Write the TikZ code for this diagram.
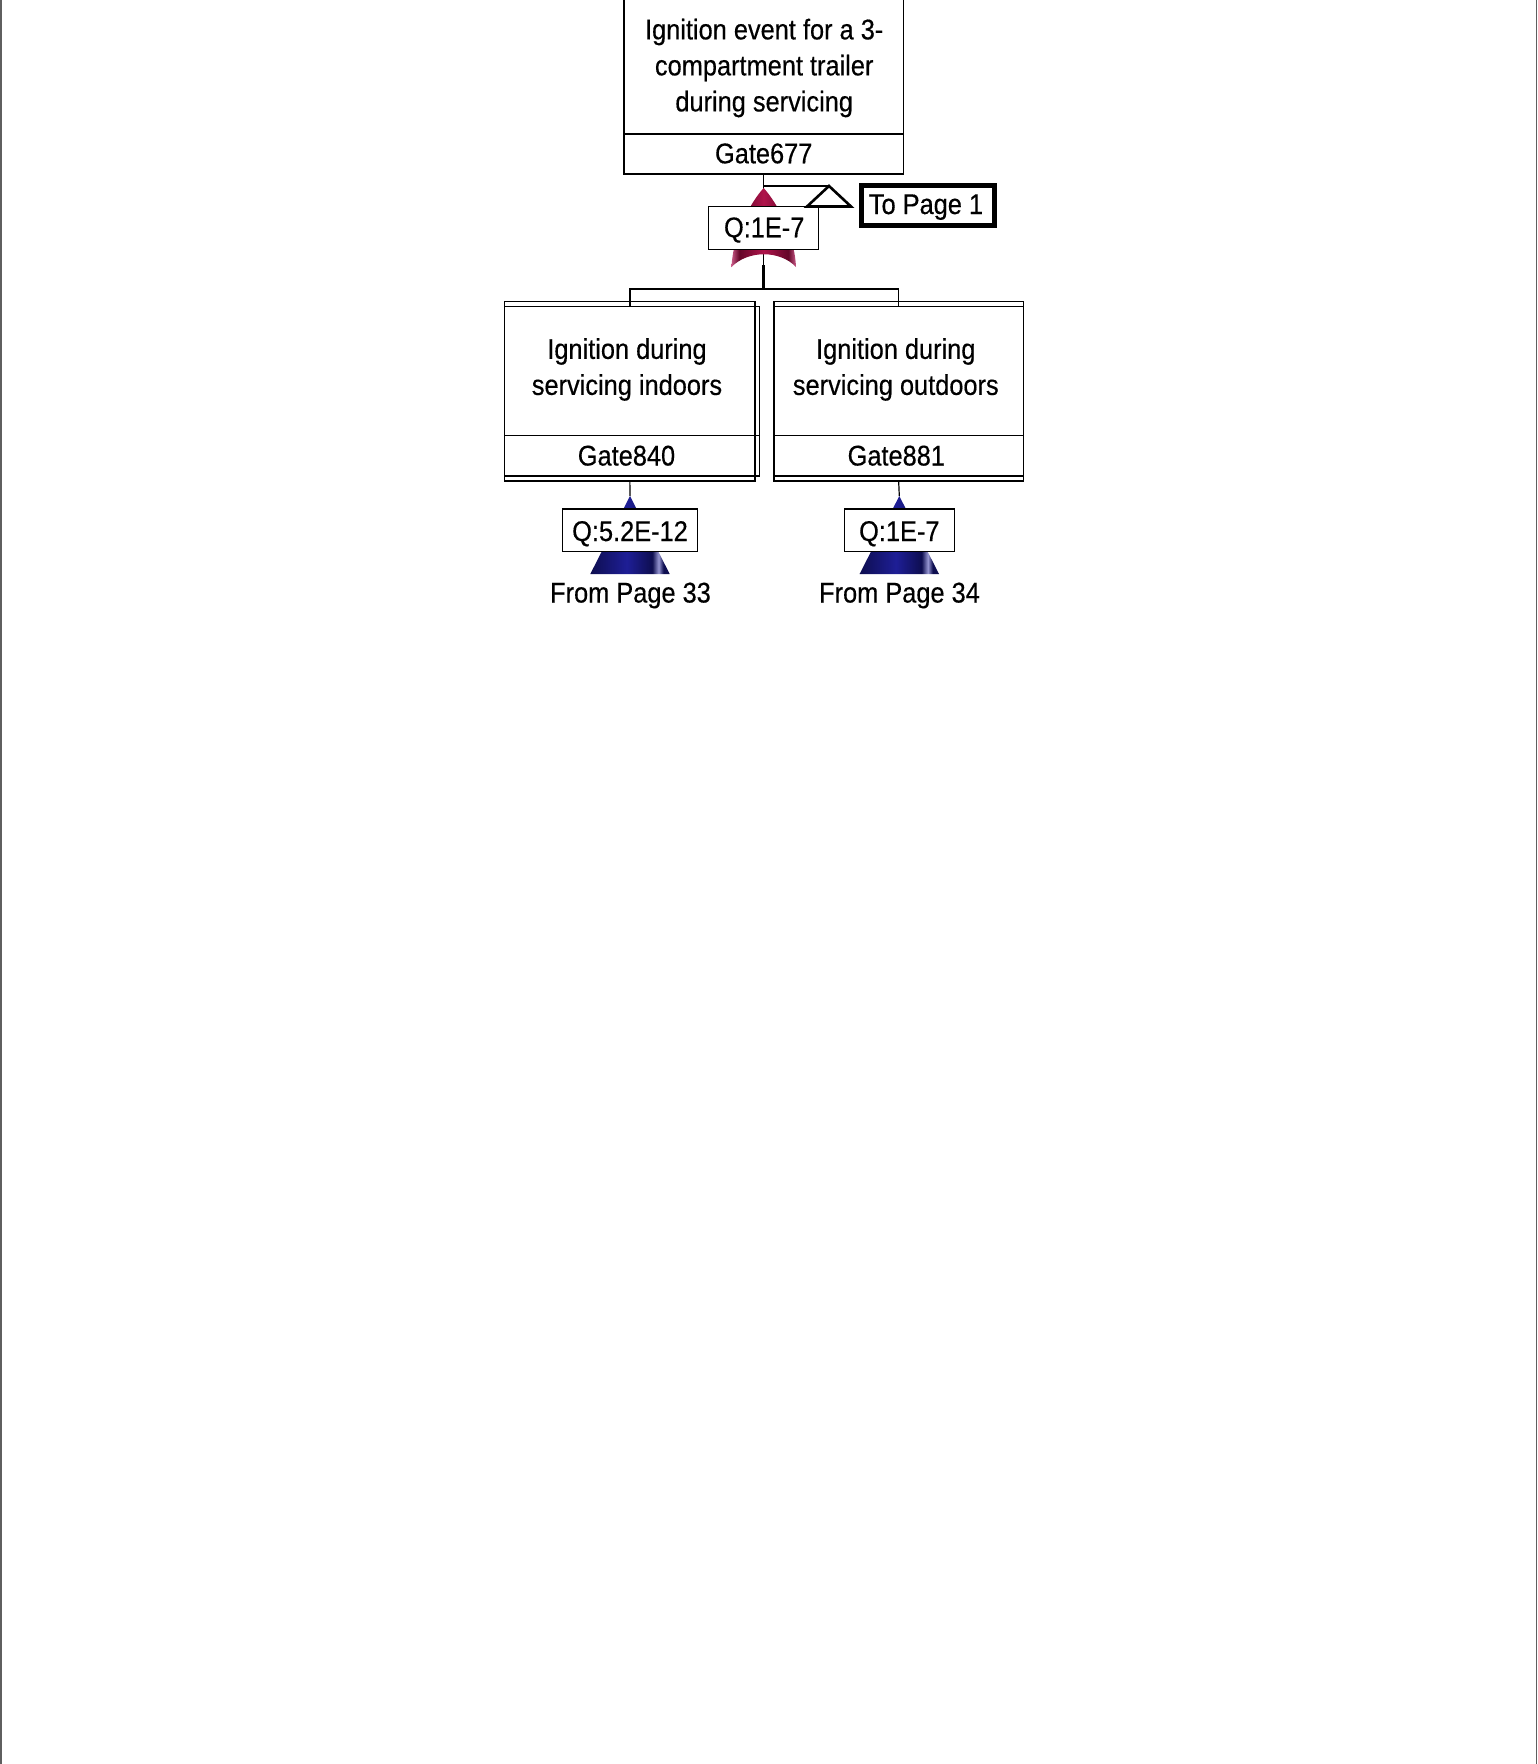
\documentclass[tikz,border=0pt]{standalone}
\usepackage{fontspec}
\setmainfont{Liberation Sans}[FakeStretch=0.89, FakeBold=0.4]
\usetikzlibrary{calc}

\definecolor{edgegray}{RGB}{95,95,95}
\definecolor{orpink}{RGB}{200,90,135}
\definecolor{ordark}{RGB}{100,6,40}
\definecolor{ormid}{RGB}{175,20,75}
\definecolor{bnavy}{RGB}{14,14,80}
\definecolor{bblue}{RGB}{30,30,150}
\definecolor{bstreak}{RGB}{150,150,210}

% OR gate body: dark flanks, crimson centre, pink rims
\pgfdeclarehorizontalshading{orshade}{100bp}{color(0bp)=(orpink); color(25bp)=(orpink); color(31bp)=(ordark); color(50bp)=(ormid); color(69bp)=(ordark); color(75bp)=(orpink); color(100bp)=(orpink)}
% transfer-in cone
\pgfdeclarehorizontalshading{xinshade}{100bp}{color(0bp)=(bnavy); color(25bp)=(bnavy); color(48bp)=(bblue); color(64bp)=(bnavy); color(68bp)=(bstreak); color(71bp)=(bnavy); color(75bp)=(bnavy); color(100bp)=(bnavy)}

\pgfdeclarelayer{paper}
\pgfdeclarelayer{wires}
\pgfdeclarelayer{gates}
\pgfsetlayers{paper,wires,gates,main}

\begin{document}
\begin{tikzpicture}[x=1pt, y=-1pt,
  every node/.style={font=\fontsize{28.5}{36}\selectfont, inner sep=0pt, outer sep=0pt},
  frame/.style={draw=black, line width=1.1pt},
  wire/.style={draw=black, line width=1.2pt},
  gatebox/.style={frame, rectangle},
  probbox/.style={frame, fill=white, rectangle, minimum height=42.7pt},
  xferout/.style={draw=black, line width=2.6pt, fill=white, line join=miter},
  pagebox/.style={draw=black, line width=5pt, fill=white, rectangle,
                  minimum width=133pt, minimum height=40pt},
  txt/.style={anchor=base},
  desc/.style={align=center},
]
\useasboundingbox (0,0) rectangle (1537,1764);
\begin{pgfonlayer}{paper}
\fill[white] (0,0) rectangle (1537,1764);
\draw[edgegray, line width=1.5pt] (0.75,0) -- (0.75,1764);
\draw[edgegray, line width=1.5pt] (1536.25,0) -- (1536.25,1764);
\end{pgfonlayer}

% ---- top event ----
\node[gatebox, minimum width=279.3pt, minimum height=184pt] (g677) at (763.65,82) {};
\draw[frame] ([yshift=40pt]g677.south west) -- ([yshift=40pt]g677.south east);
\node[desc] (g677d) at (764.2,68) {Ignition event for a 3-\\compartment trailer\\during servicing};
\node[txt] (g677id) at (763.7,163.3) {Gate677};

\node[probbox, minimum width=110.3pt] (q677) at (763.65,228) {};
\node[txt] (q677t) at (764.2,237.3) {Q:1E-7};

% transfer-out symbol and its page reference
\coordinate (xo) at (829,186);
\draw[xferout] (xo) -- ++(22,20.5) -- ++(-44,0) -- cycle;
\node[pagebox] (tp1) at (928,205.5) {};
\node[txt] (tp1t) at (926,214) {To Page 1};

% ---- intermediate events ----
\node[gatebox, minimum width=250.3pt, minimum height=179.3pt] (c840) at (629.85,391.35) {};
\draw[frame] ([yshift=-5pt]c840.north west) rectangle ([xshift=4.3pt,yshift=5pt]c840.south east);
\draw[frame] ([yshift=45.7pt]c840.south west) -- ([xshift=4.3pt,yshift=45.7pt]c840.south east);
\node[desc] (c840d) at (627,369.5) {Ignition during\\servicing indoors};
\node[txt] (c840id) at (626.5,465.5) {Gate840};

\node[gatebox, minimum width=249.3pt, minimum height=179.3pt] (c881) at (898.65,391.35) {};
\draw[frame] ([yshift=-5pt]c881.north west) rectangle ([yshift=5pt]c881.south east);
\draw[frame] ([yshift=45.7pt]c881.south west) -- ([yshift=45.7pt]c881.south east);
\node[desc] (c881d) at (895.8,369.5) {Ignition during\\servicing outdoors};
\node[txt] (c881id) at (896.3,465.5) {Gate881};

% ---- transferred-in branches ----
\node[probbox, minimum width=134.6pt] (q840) at (630,530.35) {};
\node[txt] (q840t) at (630,541) {Q:5.2E-12};
\node[txt] (f33) at (630.5,602.5) {From Page 33};

\node[probbox, minimum width=110pt] (q881) at (899.3,530.35) {};
\node[txt] (q881t) at (899.3,541) {Q:1E-7};
\node[txt] (f34) at (899.5,602.5) {From Page 34};

\coordinate (or677) at (763.65,188);
\coordinate (t840) at (630,496);
\coordinate (t881) at (899.3,496);
\coordinate (jn) at (763.65,289);

% ---- gate symbols ----
\begin{pgfonlayer}{gates}
\shade[shading=orshade] (or677) .. controls (750,203) and (733,235) .. (731.5,267)
  .. controls (748,250) and (780,250) .. (796,267)
  .. controls (794.5,235) and (777.3,203) .. (or677) -- cycle;
\shade[shading=xinshade] (t840) -- ++(39.7,78) -- ++(-79.4,0) -- cycle;
\shade[shading=xinshade] (t881) -- ++(39.7,78) -- ++(-79.4,0) -- cycle;
\end{pgfonlayer}

% ---- connectors ----
\begin{pgfonlayer}{wires}
\draw[wire] (g677.south) -- (q677.north);
\draw[wire] (g677.south |- xo) -- (xo);
\draw[wire] (q677.south) -- (jn);
\draw[black, line width=2.4pt] ($(q677.south)+(0,16)$) -- (jn);
\draw[wire, line width=1.6pt] ([yshift=-5pt]c840.north) |- (jn) -| ([yshift=-5pt]c881.north);
\draw[wire] (c840.south) -- (t840);
\draw[wire] (c881.south) -- (t881);
\end{pgfonlayer}
\end{tikzpicture}
\end{document}
